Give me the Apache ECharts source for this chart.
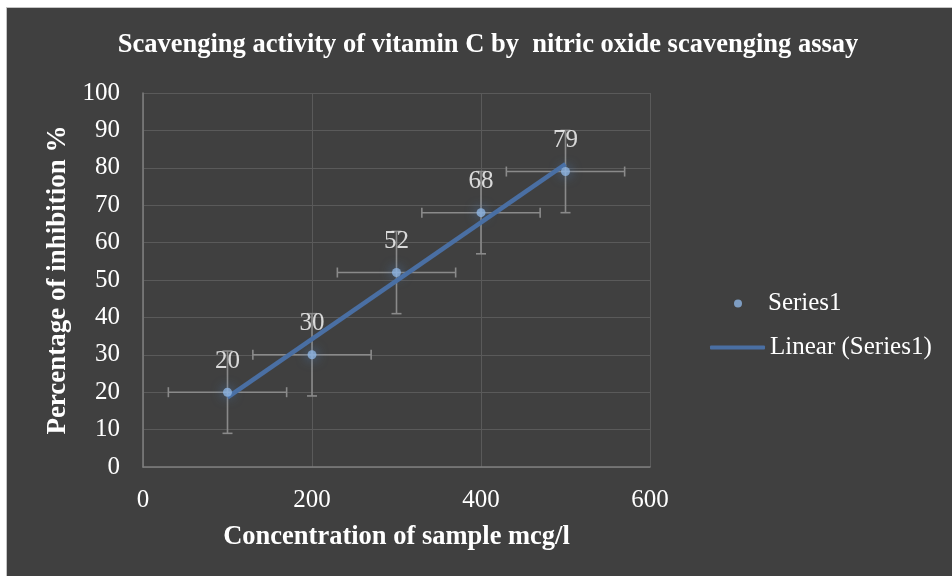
<!DOCTYPE html>
<html>
<head>
<meta charset="utf-8">
<script src="https://cdn.jsdelivr.net/npm/echarts@6/dist/echarts.min.js"></script>
<style>
html,body{margin:0;padding:0;background:#ffffff;width:952px;height:576px;overflow:hidden;}
#wrap{position:absolute;left:6px;top:7px;width:946px;height:569px;border-left:1px solid #c4c4c4;border-top:1px solid #c4c4c4;}
#c{width:946px;height:569px;}
</style>
</head>
<body>
<div id="wrap"><div id="c"></div></div>
<script>
// Data
const concentrations = [100, 200, 300, 400, 500];
const inhibition = [20, 30, 52, 68, 79];
const xErrors = [70, 70, 70, 70, 70];
const yErrors = [11, 11, 11, 11, 11];
// Linear trendline end points
const trendX = [100, 500];
const trendY = [18.6, 81.0];
const xTicks = [0, 200, 400, 600];
const yTicks = [0, 10, 20, 30, 40, 50, 60, 70, 80, 90, 100];

const FONT = "'Liberation Serif','Times New Roman',serif";
const points = concentrations.map((x, i) => [x, inhibition[i]]);
const errData = concentrations.map((x, i) => [x, inhibition[i], xErrors[i], yErrors[i]]);
const trendData = trendX.map((x, i) => [x, trendY[i]]);

const chart = echarts.init(document.getElementById('c'), null, {renderer: 'canvas'});
const errColor = '#8a8a8a';
const cap = 5;

chart.setOption({
  backgroundColor: '#404040',
  animation: false,
  title: {
    text: 'Scavenging activity of vitamin C by  nitric oxide scavenging assay',
    left: 481, top: 24, textAlign: 'center', padding: 0,
    textStyle: {color: '#ffffff', fontFamily: FONT, fontSize: 26.5, fontWeight: 'bold'}
  },
  legend: [
    {
      data: [{name: 'Series1', icon: 'circle'}],
      left: 727, top: 283, padding: 0, itemWidth: 8, itemHeight: 8,
      textStyle: {color: '#ffffff', fontFamily: FONT, fontSize: 25, padding: [0, 0, 0, 21]}
    },
    {
      data: [{name: 'Linear (Series1)', icon: 'roundRect'}],
      left: 703, top: 327, padding: 0, itemWidth: 55, itemHeight: 4,
      textStyle: {color: '#ffffff', fontFamily: FONT, fontSize: 25}
    }
  ],
  grid: {left: 136, top: 85, width: 507, height: 374, containLabel: false},
  xAxis: {
    type: 'value', min: 0, max: 600, interval: 200,
    name: 'Concentration of sample mcg/l', nameLocation: 'middle', nameGap: 57,
    nameTextStyle: {color: '#ffffff', fontFamily: FONT, fontSize: 26.5, fontWeight: 'bold'},
    axisLine: {show: true, lineStyle: {color: '#7f7f7f', width: 1.5}},
    axisTick: {show: false},
    axisLabel: {color: '#ffffff', fontFamily: FONT, fontSize: 25, margin: 21,
      formatter: v => xTicks.includes(v) ? String(v) : ''},
    splitLine: {show: true, lineStyle: {color: '#5a5a5a', width: 1}}
  },
  yAxis: {
    type: 'value', min: 0, max: 100, interval: 10,
    name: 'Percentage of inhibition %', nameLocation: 'middle', nameGap: 68,
    nameTextStyle: {color: '#ffffff', fontFamily: FONT, fontSize: 27, fontWeight: 'bold'},
    axisLine: {show: true, lineStyle: {color: '#7f7f7f', width: 1.5}},
    axisTick: {show: false},
    axisLabel: {color: '#ffffff', fontFamily: FONT, fontSize: 25, margin: 23,
      formatter: v => yTicks.includes(v) ? String(v) : ''},
    splitLine: {show: true, lineStyle: {color: '#5a5a5a', width: 1}}
  },
  series: [
    {
      type: 'custom', name: 'errors', z: 3, silent: true,
      data: errData,
      encode: {x: 0, y: 1},
      renderItem: function (params, api) {
        const x = api.value(0), y = api.value(1), ex = api.value(2), ey = api.value(3);
        const l = api.coord([x - ex, y]), r = api.coord([x + ex, y]);
        const t = api.coord([x, y + ey]), b = api.coord([x, y - ey]);
        const st = {stroke: errColor, lineWidth: 1.6};
        return {
          type: 'group',
          children: [
            {type: 'line', shape: {x1: l[0], y1: l[1], x2: r[0], y2: r[1]}, style: st},
            {type: 'line', shape: {x1: l[0], y1: l[1] - cap, x2: l[0], y2: l[1] + cap}, style: st},
            {type: 'line', shape: {x1: r[0], y1: r[1] - cap, x2: r[0], y2: r[1] + cap}, style: st},
            {type: 'line', shape: {x1: t[0], y1: t[1], x2: b[0], y2: b[1]}, style: st},
            {type: 'line', shape: {x1: t[0] - cap, y1: t[1], x2: t[0] + cap, y2: t[1]}, style: st},
            {type: 'line', shape: {x1: b[0] - cap, y1: b[1], x2: b[0] + cap, y2: b[1]}, style: st}
          ]
        };
      }
    },
    {
      type: 'line', name: 'Linear (Series1)', z: 4,
      data: trendData, showSymbol: false, symbol: 'none',
      lineStyle: {color: '#4a6fa3', width: 4.5},
      itemStyle: {color: '#4a6fa3'}
    },
    {
      type: 'scatter', name: 'Series1', z: 5,
      data: points, symbol: 'circle', symbolSize: 9,
      itemStyle: {color: '#8db4e2', shadowBlur: 12, shadowColor: 'rgba(79,129,189,1)'},
      label: {show: true, position: 'top', distance: 14, color: '#ffffff',
        fontFamily: FONT, fontSize: 25, formatter: p => String(p.value[1])}
    }
  ]
});
</script>
</body>
</html>
